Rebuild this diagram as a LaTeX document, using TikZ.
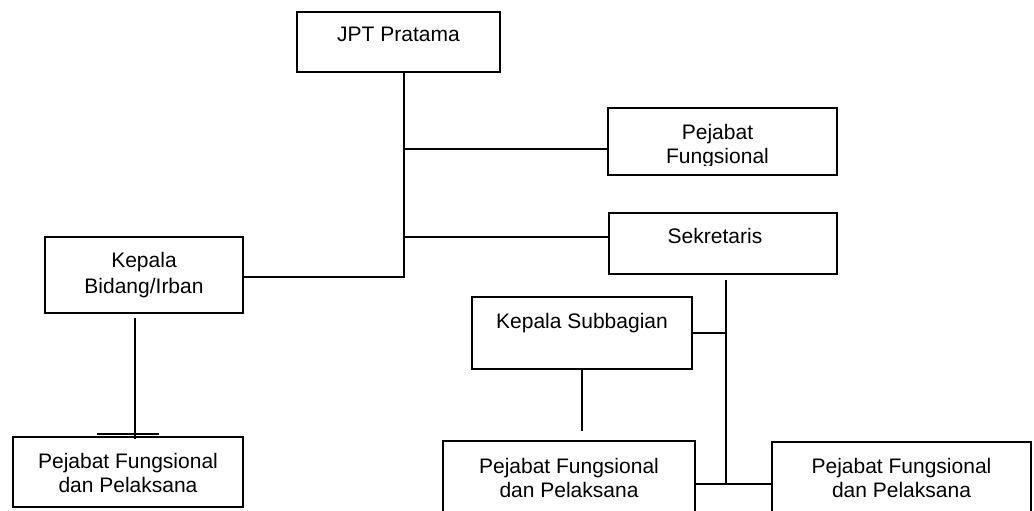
\documentclass[tikz,border=0pt]{standalone}
\usepackage{fontspec}
\setmainfont{Liberation Sans}
\begin{document}
\begin{tikzpicture}[x=1pt,y=-1pt,line width=1.4pt,
	box/.style={draw,inner sep=0pt},
	txt/.style={anchor=base,align=center,inner sep=0pt,font=\fontsize{21}{24}\selectfont}]
	\clip (0,0) rectangle (1034,511);

	% boxes
	\node [box, minimum width=203, minimum height=60] (jpt) at (398.5, 42) {};
	\node [box, minimum width=229, minimum height=67] (pf) at (722.5, 141.5) {};
	\node [box, minimum width=228, minimum height=61] (sek) at (723, 243.5) {};
	\node [box, minimum width=198, minimum height=76] (kb) at (144, 275) {};
	\node [box, minimum width=230, minimum height=70] (pfl) at (128, 472) {};
	\node [box, minimum width=220, minimum height=72] (ksb) at (582, 333) {};
	\node [box, minimum width=252, minimum height=74] (pfm) at (569, 478) {};
	\node [box, minimum width=259, minimum height=73] (pfr) at (901.5, 478.5) {};

	% texts
	\node [txt] (jpt-t) at (398.5, 42) {JPT Pratama};
	\begin{scope}
		\clip (608, 108) rectangle (837, 165);
		\node [txt] (pf-t) at (717.5, 163) {Pejabat\\Fungsional};
	\end{scope}
	\node [txt] (sek-t) at (715, 243) {Sekretaris};
	\node [txt, font=\fontsize{21}{26}\selectfont] (kb-t) at (144, 293) {Kepala\\Bidang/Irban};
	\node [txt] (pfl-t) at (128, 492) {Pejabat Fungsional\\dan Pelaksana};
	\node [txt] (ksb-t) at (582, 328) {Kepala Subbagian};
	\node [txt] (pfm-t) at (569, 497) {Pejabat Fungsional\\dan Pelaksana};
	\node [txt] (pfr-t) at (901.5, 497) {Pejabat Fungsional\\dan Pelaksana};

	% trunk
	\coordinate (top) at (404, 72);
	\coordinate (low) at (404, 277);
	\coordinate (a) at (404, 149);
	\coordinate (b) at (404, 237);
	\draw (top) -- (low) -- (low -| kb.east);
	\draw (a) -- (a -| pf.west);
	\draw (b) -- (b -| sek.west);

	% left branch
	\coordinate (kb-l) at (135, 318);
	\coordinate (kb-m) at (135, 439);
	\draw (kb-l) -- (kb-m);
	\draw (97, 434) -- (159, 434);

	% right branch
	\coordinate (sek-l) at (726, 280);
	\coordinate (sek-m) at (726, 484);
	\draw (sek-l) -- (sek-m);
	\draw (ksb.east) -- (ksb.east -| sek-l);
	\draw (pfm.east |- sek-m) -- (pfr.west |- sek-m);
	\coordinate (ksb-l) at (582, 369);
	\coordinate (ksb-m) at (582, 431);
	\draw (ksb-l) -- (ksb-m);
\end{tikzpicture}
\end{document}
